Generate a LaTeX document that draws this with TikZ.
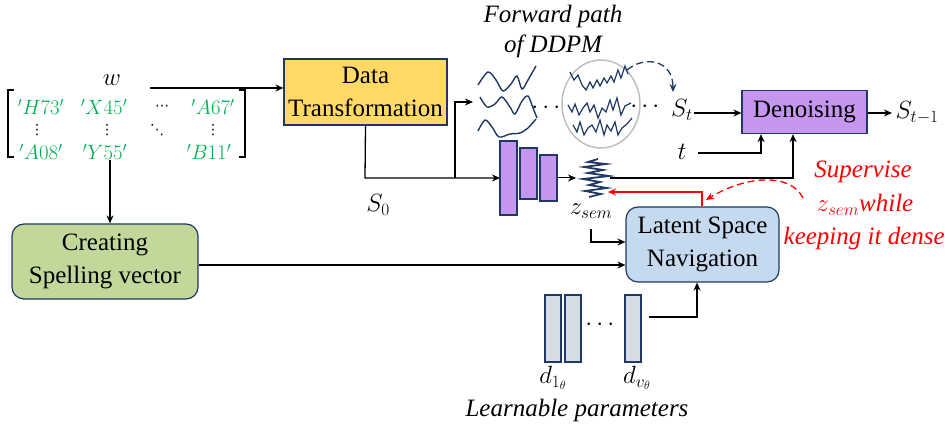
\documentclass[tikz,border=0pt]{standalone}
\usepackage{fontspec}
\setmainfont{Liberation Serif}
\newfontfamily\dejavu{DejaVu Sans}
\usepackage{amsmath}
\usetikzlibrary{arrows.meta}
\definecolor{navy}{RGB}{31,56,100}
\definecolor{boxyellow}{RGB}{255,217,102}
\definecolor{boxpurple}{RGB}{196,150,240}
\definecolor{boxblue}{RGB}{197,218,239}
\definecolor{boxgreen}{RGB}{193,216,154}
\definecolor{bargrey}{RGB}{214,220,228}
\definecolor{mgreen}{RGB}{0,176,80}
\definecolor{ringgrey}{RGB}{191,191,191}
\begin{document}
\begin{tikzpicture}[x=1pt,y=-1pt,line width=1.3pt,
  >={Stealth[length=8pt,width=7pt]},
  big/.style={font=\fontsize{25}{33}\selectfont},
  box/.style={draw=navy,line width=1.2pt,align=center,inner sep=0pt,big},
  wave/.style={draw=navy,line width=1.4pt},
  ent/.style={text=mgreen,font=\fontsize{20}{22}\selectfont,inner sep=0pt},
  entdots/.style={font=\dejavu\fontsize{14}{14}\selectfont,inner sep=0pt},
  redt/.style={text=red,font=\fontsize{25}{30}\selectfont\itshape,inner sep=0pt},
  lbl/.style={font=\fontsize{25}{30}\selectfont,inner sep=0pt},
  encbar/.style={draw=navy,fill=boxpurple,line width=1.2pt},
  greybar/.style={draw=navy,fill=bargrey,line width=1.2pt},
  longdash/.style={dash pattern=on 7pt off 4pt}]
\useasboundingbox (0,0) rectangle (945,427);

% matrix
\node[ent] (m11) at (41,107) {$'H73'$};
\node[ent] (m12) at (104,107) {$'X45'$};
\node[entdots] (m13) at (162,108) {⋯};
\node[ent] (m14) at (213,107) {$'A67'$};
\node[entdots] (m21) at (37,130) {⋮};
\node[entdots] (m22) at (107,130) {⋮};
\node[entdots] (m23) at (157,130) {⋱};
\node[entdots] (m24) at (213,130) {⋮};
\node[ent] (m31) at (41,152) {$'A08'$};
\node[ent] (m32) at (105,152) {$'Y55'$};
\node[ent] (m34) at (209,152) {$'B11'$};
\draw[line width=1.1pt] (14,90) -- (8,90) -- (8,157) -- (14,157);
\draw[line width=1.1pt] (239,90) -- (245,90) -- (245,157) -- (239,157);
\coordinate (mbot) at (110,160);
\node[lbl] (w) at (112,80) {$w$};

% helper coordinates
\coordinate (y88) at (0,88);
\coordinate (y113) at (0,113);
\coordinate (y242) at (0,242);
\coordinate (y265) at (0,265);
\coordinate (x761) at (761,0);
\coordinate (x793) at (793,0);
\coordinate (x702) at (702,0);
\coordinate (x697) at (697,0);

% boxes
\node[box,fill=boxyellow,minimum width=163pt,minimum height=66pt] (dt) at (365.5,92) {Data\\Transformation};
\node[box,fill=boxpurple,minimum width=125pt,minimum height=43pt] (den) at (804.5,112) {Denoising};
\node[box,fill=boxblue,rounded corners=12pt,minimum width=153pt,minimum height=75pt] (lsn) at (702.5,244.5) {Latent Space\\Navigation};
\node[box,fill=boxgreen,rounded corners=12pt,minimum width=186pt,minimum height=75pt] (csv) at (105,261.5) {Creating\\Spelling vector};

% arrows from matrix
\draw[->] (150,88) -- (dt.west |- y88);
\draw[->] (mbot) -- (mbot |- csv.north);

% S0 path
\node[lbl] (s0) at (378,205) {$S_0$};
\coordinate (br) at (455,178);
\draw[->] (dt.south) -- (365,178) -- (500,178);
\draw[->] (br) -- (455,102) -- (473,102);

% encoder bars
\draw[encbar] (500,141) rectangle (517,215);
\draw[encbar] (520,148) rectangle (537,199);
\draw[encbar] (540,155) rectangle (557,201);
\coordinate (encout) at (558,178);
\draw[->,line width=1pt] (encout) -- (576,178);

% zsem wave
\draw[wave,line width=1.8pt] (598,159) -- (588,162) -- (606,164) -- (584,167) -- (603,170) -- (588,173) -- (609,176) -- (583,179) -- (600,182) -- (589,185) -- (607,188) -- (585,191) -- (601,194) -- (589,197);
\node[lbl] (zsem) at (591,211) {$z_{sem}$};

% forward path waves
\node[font=\fontsize{25}{30}\selectfont\itshape,align=center,inner sep=0pt] (fp) at (553,31) {Forward path\\of DDPM};
\draw[wave] plot[smooth] coordinates {(478,85) (488,72) (496,80) (503,91) (511,84) (517,76) (522,89) (528,80) (536,66)};
\draw[wave] plot[smooth] coordinates {(480,97) (487,107) (495,104) (502,97) (510,107) (515,114) (522,101) (528,96) (533,108) (537,118)};
\draw[wave] plot[smooth] coordinates {(478,131) (485,120) (492,127) (499,137) (510,134) (520,133) (528,128) (536,119)};
\node[lbl] (dots1) at (548,108) {$\cdots$};
\draw[ringgrey,line width=1.5pt] (601,104) ellipse [x radius=39, y radius=44];
\draw[wave,line width=1.2pt] (570,72)--(574,80)--(578,75)--(582,85)--(586,90)--(590,82)--(593,88)--(597,80)--(600,86)--(604,78)--(607,83)--(611,76)--(614,82)--(618,70)--(621,78)--(625,66)--(628,74);
\draw[wave,line width=1.2pt] (568,105)--(572,112)--(575,104)--(579,115)--(583,108)--(587,103)--(590,112)--(594,105)--(598,118)--(602,108)--(606,112)--(610,100)--(613,110)--(617,98)--(621,115)--(625,106)--(631,103);
\draw[wave,line width=1.2pt] (573,125)--(577,132)--(580,122)--(584,135)--(588,128)--(592,125)--(596,132)--(600,120)--(604,135)--(607,125)--(611,131)--(615,122)--(618,135)--(622,128)--(627,124)--(632,118);
\node[lbl] (dots2) at (647,107) {$\cdots$};
\node[lbl] (st) at (682,110) {$S_t$};
\draw[navy,longdash,line width=1.3pt,->] (627,70) .. controls (645,55) and (673,60) .. (673,92);

% denoising connections
\draw[->] (694,113) -- (den.west |- y113);
\node[lbl] (t) at (682,152) {$t$};
\draw[->] (698,153) -- (761,153) -- (x761 |- den.south);
\draw[->] (610,178) -- (793,178) -- (x793 |- den.south);
\draw[->] (den.east |- y113) -- (892,113);
\node[lbl,anchor=west] (st1) at (895,113) {$S_{t-1}$};

% red supervision
\draw[red,->] (x702 |- lsn.north) -- (702,192) -- (608,192);
\draw[red,longdash,line width=1.3pt,->] (803,198) .. controls (790,172) and (745,176) .. (706,200);
\node[redt] (sup) at (863,172) {Supervise};
\node[redt] (zw) at (865,205) {$z_{sem}$while};
\node[redt,anchor=west] (keep) at (783,238) {keeping it dense};

% inputs to LSN
\draw[->] (591,229) -- (591,242) -- (lsn.west |- y242);
\draw[->] (csv.east |- y265) -- (lsn.west |- y265);

% learnable parameters
\draw[greybar] (545,295) rectangle (561,362);
\draw[greybar] (565,295) rectangle (581,362);
\draw[greybar] (625,295) rectangle (641,362);
\node[lbl] (dots3) at (602,325) {$\cdots$};
\draw[->] (649,317) -- (697,317) -- (x697 |- lsn.south);
\node[lbl] (d1) at (553,378) {$d_{1_\theta}$};
\node[lbl] (dv) at (637,378) {$d_{v_\theta}$};
\node[font=\fontsize{25}{30}\selectfont\itshape,inner sep=0pt] (lp) at (577,410) {Learnable parameters};
\end{tikzpicture}
\end{document}
